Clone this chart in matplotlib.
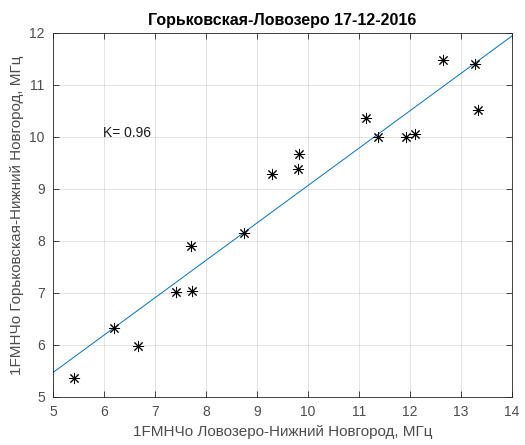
import numpy as np
import matplotlib
matplotlib.use("Agg")
import matplotlib.pyplot as plt

plt.rcParams['font.family'] = ['Liberation Sans', 'DejaVu Sans']

# 1FMHЧо values for the two paths, MHz
lovozero_nn = [5.42, 6.20, 6.67, 7.41, 7.73, 7.71, 8.74, 9.30, 9.80, 9.82,
               11.14, 11.38, 11.92, 12.10, 12.64, 13.27, 13.34]
gorkovskaya_nn = [5.37, 6.32, 5.98, 7.01, 7.03, 7.90, 8.15, 9.29, 9.38, 9.67,
                  10.36, 10.00, 9.99, 10.05, 11.47, 11.40, 10.51]
fit_x = [5, 14]
fit_y = [5.47, 11.94]
corr_label = "K= 0.96"

fig = plt.figure(figsize=(5.25, 4.45), dpi=100)
ax = fig.add_axes([0.101, 0.108, 0.874, 0.818])

axis_col = '#262626'
ax.plot(fit_x, fit_y, color='#0072BD', lw=0.7)
ax.plot(lovozero_nn, gorkovskaya_nn, linestyle='none', marker=(8, 2, 0),
        markersize=8, markeredgewidth=0.7, color='black')

ax.text(5.98, 10.08, corr_label, fontsize=10, va='center', ha='left', color='#1a1a1a')

ax.set_xlim(5, 14)
ax.set_ylim(5, 12)
ax.set_xticks(range(5, 15))
ax.set_yticks(range(5, 13))
ax.grid(True, color=axis_col, alpha=0.15, lw=0.6)
ax.tick_params(direction='in', top=True, right=True, length=4, width=0.6,
               labelsize=10, colors=axis_col, labelcolor='#4d4d4d', pad=6)
for s in ax.spines.values():
    s.set_color(axis_col)
    s.set_linewidth(0.6)

ax.set_xlabel("1FMHЧо Ловозеро-Нижний Новгород, МГц", fontsize=11, color='#4d4d4d')
ax.set_ylabel("1FMHЧо Горьковская-Нижний Новгород, МГц", fontsize=11, color='#4d4d4d')
ax.set_title("Горьковская-Ловозеро 17-12-2016", fontsize=11.5, fontweight='bold', pad=6)

fig.savefig("out.png", dpi=100)
